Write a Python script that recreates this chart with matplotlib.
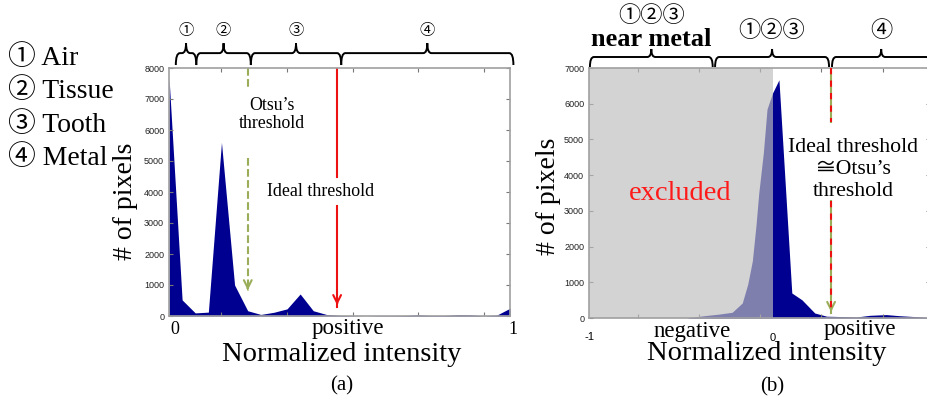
import numpy as np
import matplotlib.pyplot as plt
from matplotlib.path import Path
from matplotlib.patches import PathPatch
from matplotlib.transforms import blended_transform_factory

SERIF = ['Liberation Serif', 'Noto Sans CJK JP', 'DejaVu Serif']
SANS = ['Liberation Sans', 'DejaVu Sans']
plt.rcParams['font.family'] = SERIF

NAVY = '#000090'
OLIVE = '#9aad58'
SPINE = '#a0a0a0'

# (a) histogram of normalized intensity, 27 bins over [0, 1]
a_x = np.linspace(0, 1, 27)
a_counts = [7700, 520, 100, 125, 5600, 1000, 170, 50, 120, 230, 710, 170, 50,
            20, 10, 0, 10, 10, 15, 35, 15, 15, 40, 35, 5, 30, 250]
a_otsu = 0.231
a_ideal = 0.493
a_regions = [0.02, 0.08, 0.24, 0.505, 1.01]
a_region_labels = ['①', '②', '③', '④']

# (b) histogram after subtracting, range [-1, 1]
b_x = [-0.47, -0.38, -0.29, -0.22, -0.165, -0.135, -0.11, -0.09, -0.075, -0.05,
       -0.03, 0.0, 0.035, 0.105, 0.16, 0.195, 0.23, 0.295, 0.46, 0.53, 0.62,
       0.69, 0.84, 0.87]
b_counts = [0, 60, 110, 160, 420, 950, 1600, 2600, 3500, 4630, 5850, 6300, 6670,
            700, 510, 325, 140, 50, 30, 75, 95, 65, 20, 15]
b_threshold = 0.319
b_regions = [-0.995, -0.326, -0.313, 0.308, 0.324, 0.86]
b_region_labels = ['①②③', '①②③', '④']

legend_items = ['① Air', '② Tissue', '③ Tooth', '④ Metal']


def brace(ax, x0, x1, y_end, y_line, y_tip, r):
    trans = blended_transform_factory(ax.transData, ax.transAxes)
    mid = (x0 + x1) / 2
    verts = [(x0, y_end), (x0, y_line), (x0 + r, y_line),
             (mid - r, y_line),
             (mid, y_line), (mid, y_tip),
             (mid, y_line), (mid + r, y_line),
             (x1 - r, y_line),
             (x1, y_line), (x1, y_end)]
    codes = [Path.MOVETO, Path.CURVE3, Path.CURVE3,
             Path.LINETO,
             Path.CURVE3, Path.CURVE3,
             Path.CURVE3, Path.CURVE3,
             Path.LINETO,
             Path.CURVE3, Path.CURVE3]
    ax.add_patch(PathPatch(Path(verts, codes), fill=False, lw=1.4, color='black',
                           transform=trans, clip_on=False))


def style_axes(ax):
    for s in ax.spines.values():
        s.set_color(SPINE)
        s.set_linewidth(1.2)
    ax.tick_params(direction='in', top=True, right=True, length=3, color='#777777',
                   labelsize=6.5, labelcolor='#222222')
    ax.set_xticklabels([])
    for lab in ax.get_yticklabels():
        lab.set_family(SANS)


def arrow_head(ax, x, y, color):
    ax.annotate('', xy=(x, y), xytext=(x, y + 250),
                arrowprops=dict(arrowstyle='->', color=color, lw=1.5, mutation_scale=14))


fig = plt.figure(figsize=(9.28, 4.0), dpi=100)

# ---------------- panel (a) ----------------
ax1 = fig.add_axes([169 / 928, 84 / 400, 341 / 928, 248 / 400])
ax1.fill_between(a_x, 0, a_counts, color=NAVY, lw=0)
ax1.set_xlim(0, 1)
ax1.set_ylim(0, 8000)
ax1.set_yticks(range(0, 8001, 1000))
ax1.set_xticks(a_x[[4, 9, 14, 19, 24]])
style_axes(ax1)

# Otsu's threshold (green dashed)
ax1.plot([a_otsu, a_otsu], [8000, 7350], color=OLIVE, ls='--', lw=1.5)
ax1.plot([a_otsu, a_otsu], [5100, 800], color=OLIVE, ls='--', lw=1.5)
arrow_head(ax1, a_otsu, 740, OLIVE)
ax1.text(a_otsu + 0.07, 6500, "Otsu’s\nthreshold", ha='center', va='center',
         fontsize=12.8, linespacing=1.15)

# ideal threshold (red)
ax1.plot([a_ideal, a_ideal], [8000, 4480], color='#ee1111', lw=1.5)
ax1.plot([a_ideal, a_ideal], [3550, 300], color='#ee1111', lw=1.5)
arrow_head(ax1, a_ideal, 260, '#ee1111')
ax1.text(a_ideal - 0.05, 4000, "Ideal threshold", ha='center', va='center', fontsize=12.9)

t1 = blended_transform_factory(ax1.transData, ax1.transAxes)
for i, lab in enumerate(a_region_labels):
    x0, x1 = a_regions[i], a_regions[i + 1]
    brace(ax1, x0, x1, 1.012, 1.06, 1.10, 0.012)
    ax1.text((x0 + x1) / 2, 1.149, lab, transform=t1, ha='center', va='center', fontsize=11)

ax1.text(0.018, -0.056, '0', transform=t1, ha='center', va='center', fontsize=13)
ax1.text(1.01, -0.056, '1', transform=t1, ha='center', va='center', fontsize=13)
ax1.text(0.525, -0.052, 'positive', transform=t1, ha='center', va='center', fontsize=16.5)
ax1.text(0.507, -0.157, 'Normalized intensity', transform=ax1.transAxes, ha='center',
         va='center', fontsize=20.5)
ax1.text(-0.129, 0.464, '# of pixels', transform=ax1.transAxes, ha='center', va='center',
         rotation=90, fontsize=20)
ax1.text(0.507, -0.282, '(a)', transform=ax1.transAxes, ha='center', va='center', fontsize=15)

# ---------------- panel (b) ----------------
ax2 = fig.add_axes([589 / 928, 82 / 400, 341 / 928, 250 / 400])
ax2.fill_between(b_x, 0, b_counts, color=NAVY, lw=0, zorder=1)
ax2.axvspan(-1, 0, color='#bebebe', alpha=0.67, lw=0, zorder=2)
ax2.set_xlim(-1, 0.858)
ax2.set_ylim(0, 7000)
ax2.set_yticks(range(0, 7001, 1000))
ax2.set_xticks([-1 + k / 15 for k in (4, 9, 14, 19, 24)])
style_axes(ax2)

ax2.plot([b_threshold, b_threshold], [7000, 5500], color=OLIVE, lw=1.5, zorder=3)
ax2.plot([b_threshold, b_threshold], [7000, 5500], color='#ee1111', lw=1.5, ls=(0, (3, 3)), zorder=4)
ax2.plot([b_threshold, b_threshold], [3270, 150], color=OLIVE, lw=1.5, zorder=3)
ax2.plot([b_threshold, b_threshold], [3270, 150], color='#ee1111', lw=1.5, ls=(0, (3, 3)), zorder=4)
arrow_head(ax2, b_threshold, 90, OLIVE)
ax2.text(b_threshold + 0.12, 4160, "Ideal threshold\n≅Otsu’s\nthreshold", ha='center',
         va='center', fontsize=15.7, linespacing=1.2, zorder=5)

t2 = blended_transform_factory(ax2.transData, ax2.transAxes)
ax2.text(-0.504, 0.5, 'excluded', transform=t2, ha='center', va='center',
         color='#ff1a1a', fontsize=20.5, zorder=5)

for i, lab in enumerate(b_region_labels):
    x0, x1 = b_regions[2 * i], b_regions[2 * i + 1]
    brace(ax2, x0, x1, 1.004, 1.044, 1.076, 0.022)
    y = 1.204 if i == 0 else 1.144
    ax2.text((x0 + x1) / 2, y, lab, transform=t2, ha='center', va='center', fontsize=16)
ax2.text((b_regions[0] + b_regions[1]) / 2, 1.116, 'near metal', transform=t2, ha='center',
         va='center', fontsize=19, fontweight='bold')

ax2.text(-0.995, -0.076, '-1', transform=t2, ha='center', va='center', fontsize=8, family=SANS)
ax2.text(0.0, -0.08, '0', transform=t2, ha='center', va='center', fontsize=8, family=SANS)
ax2.text(-0.439, -0.056, 'negative', transform=t2, ha='center', va='center', fontsize=16.5)
ax2.text(0.474, -0.048, 'positive', transform=t2, ha='center', va='center', fontsize=16.5)
ax2.text(0.522, -0.144, 'Normalized intensity', transform=ax2.transAxes, ha='center',
         va='center', fontsize=20.5)
ax2.text(-0.12, 0.488, '# of pixels', transform=ax2.transAxes, ha='center', va='center',
         rotation=90, fontsize=20)
ax2.text(0.537, -0.276, '(b)', transform=ax2.transAxes, ha='center', va='center', fontsize=15)

# legend of tissue classes
for i, item in enumerate(legend_items):
    fig.text(8 / 928, 1 - (58 + 33.3 * i) / 400, item, ha='left', va='center', fontsize=20)

fig.savefig('out.png', dpi=100)
